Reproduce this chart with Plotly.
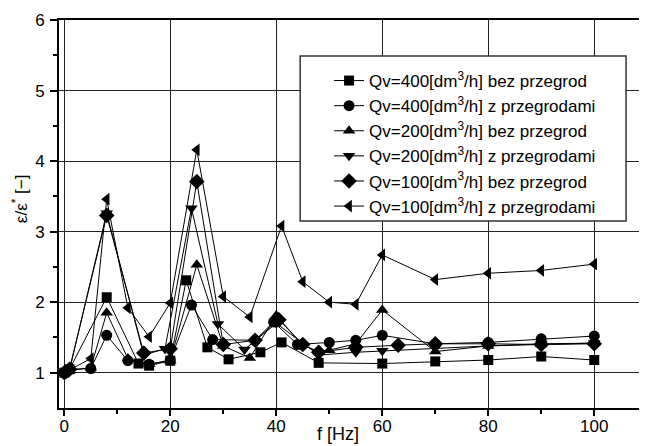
import plotly.graph_objects as go

# --- data ---
f_sq = [0, 1, 8, 14, 16, 20, 23, 27, 31, 37, 41, 48, 60, 70, 80, 90, 100]
v_sq = [1.0, 1.05, 2.07, 1.13, 1.10, 1.17, 2.31, 1.36, 1.19, 1.29, 1.43, 1.14, 1.13, 1.16, 1.18, 1.23, 1.18]

f_ci = [0, 1, 5, 8, 12, 16, 20, 24, 28, 36, 39.5, 44, 50, 55, 60, 70, 80, 90, 100]
v_ci = [1.0, 1.05, 1.06, 1.53, 1.17, 1.12, 1.18, 1.96, 1.47, 1.46, 1.72, 1.40, 1.43, 1.46, 1.53, 1.41, 1.43, 1.48, 1.52]

f_tu = [0, 1, 5, 8, 12, 16, 20, 25, 30, 35, 40, 45, 48, 50, 55, 60, 70, 80, 90, 100]
v_tu = [1.0, 1.03, 1.07, 1.85, 1.20, 1.12, 1.17, 2.53, 1.38, 1.21, 1.81, 1.39, 1.30, 1.32, 1.41, 1.89, 1.30, 1.38, 1.40, 1.42]

f_td = [0, 1, 8, 15, 19, 24, 29, 34, 40, 48, 55, 60, 70, 80, 90, 100]
v_td = [1.0, 1.05, 3.26, 1.25, 1.34, 3.33, 1.69, 1.33, 1.70, 1.25, 1.29, 1.31, 1.35, 1.38, 1.41, 1.42]

f_di = [0, 1, 8, 15, 20, 25, 30, 36, 40.5, 45, 48, 55, 63, 70, 80, 90, 100]
v_di = [1.0, 1.05, 3.23, 1.28, 1.34, 3.71, 1.40, 1.46, 1.75, 1.40, 1.29, 1.36, 1.39, 1.41, 1.41, 1.40, 1.41]

f_tl = [0, 5, 8, 12, 16, 20, 25, 30, 35, 41, 45, 50, 55, 60, 70, 80, 90, 100]
v_tl = [1.0, 1.20, 3.46, 1.92, 1.51, 1.99, 4.16, 2.08, 1.79, 3.08, 2.29, 2.00, 1.97, 2.67, 2.32, 2.41, 2.45, 2.54]

names = [
    "Qv=400[dm<sup>3</sup>/h] bez przegrod",
    "Qv=400[dm<sup>3</sup>/h] z przegrodami",
    "Qv=200[dm<sup>3</sup>/h] bez przegrod",
    "Qv=200[dm<sup>3</sup>/h] z przegrodami",
    "Qv=100[dm<sup>3</sup>/h] bez przegrod",
    "Qv=100[dm<sup>3</sup>/h] z przegrodami",
]
series = [(f_sq, v_sq), (f_ci, v_ci), (f_tu, v_tu), (f_td, v_td), (f_di, v_di), (f_tl, v_tl)]
symbols = ["square", "circle", "triangle-up", "triangle-down", "diamond", "triangle-left"]
sizes = [10, 11, 11, 11, 12, 11]

x_ticks = [0, 20, 40, 60, 80, 100]
y_ticks = [1, 2, 3, 4, 5, 6]

fig = go.Figure()
for (fx, vy), nm, sym, sz in zip(series, names, symbols, sizes):
    fig.add_trace(go.Scatter(
        x=fx, y=vy, name=nm, mode="lines+markers",
        line=dict(color="black", width=1),
        marker=dict(symbol=sym, size=sz, color="black", line=dict(width=0)),
    ))

FONT = "Liberation Sans, Arial, sans-serif"
# page body has an 8px margin: figure is 639x438, drawn at (8, 8)
PW, PH = 586.0, 388.0


def px_x(p):  # window pixel -> paper x
    return (p - 59.0) / PW


def px_y(p):  # window pixel -> paper y
    return (408.0 - p) / PH


fig.update_layout(
    width=639, height=438,
    margin=dict(l=51, r=2, t=12, b=38),
    paper_bgcolor="white", plot_bgcolor="white",
    font=dict(family=FONT, size=17, color="black"),
    showlegend=True,
    legend=dict(
        x=px_x(330), y=px_y(63), xanchor="left", yanchor="top",
        bgcolor="rgba(0,0,0,0)", borderwidth=0,
        font=dict(family=FONT, size=17, color="black"),
        tracegroupgap=0,
    ),
    xaxis=dict(
        range=[-1, 109.2], tickvals=x_ticks, ticktext=[str(t) for t in x_ticks],
        showgrid=True, gridcolor="#222", gridwidth=1,
        showline=True, linecolor="black", linewidth=2, mirror=True,
        ticks="outside", ticklen=6, tickwidth=1.5, tickcolor="black",
        minor=dict(tickvals=[10, 30, 50, 70, 90], ticks="outside", ticklen=4, tickwidth=1.5, tickcolor="black", showgrid=False),
        zeroline=False, tickfont=dict(size=17), ticklabelstandoff=-4,
    ),
    yaxis=dict(
        range=[0.5, 6], tickvals=y_ticks, ticktext=[str(t) for t in y_ticks],
        showgrid=True, gridcolor="#222", gridwidth=1,
        showline=True, linecolor="black", linewidth=2, mirror=True,
        ticks="outside", ticklen=7, tickwidth=1.5, tickcolor="black",
        minor=dict(tickvals=[1.5, 2.5, 3.5, 4.5, 5.5], ticks="outside", ticklen=4, tickwidth=1.5, tickcolor="black", showgrid=False),
        zeroline=False, tickfont=dict(size=17), ticklabelstandoff=2,
    ),
    shapes=[
        dict(type="rect", xref="paper", yref="paper",
             x0=px_x(301), x1=px_x(628), y0=px_y(221), y1=px_y(56),
             fillcolor="white", line=dict(color="#333", width=1.5), layer="above"),
    ],
    annotations=[
        dict(text="f [Hz]", x=px_x(339), y=px_y(434), xref="paper", yref="paper",
             xanchor="center", yanchor="middle", showarrow=False, font=dict(size=18)),
        dict(text="ε/ε<sup>*</sup> [−]", x=px_x(20), y=px_y(199), xref="paper", yref="paper",
             xanchor="center", yanchor="middle", textangle=-90, showarrow=False, font=dict(size=17)),
    ],
)
fig.write_html("out.html")
